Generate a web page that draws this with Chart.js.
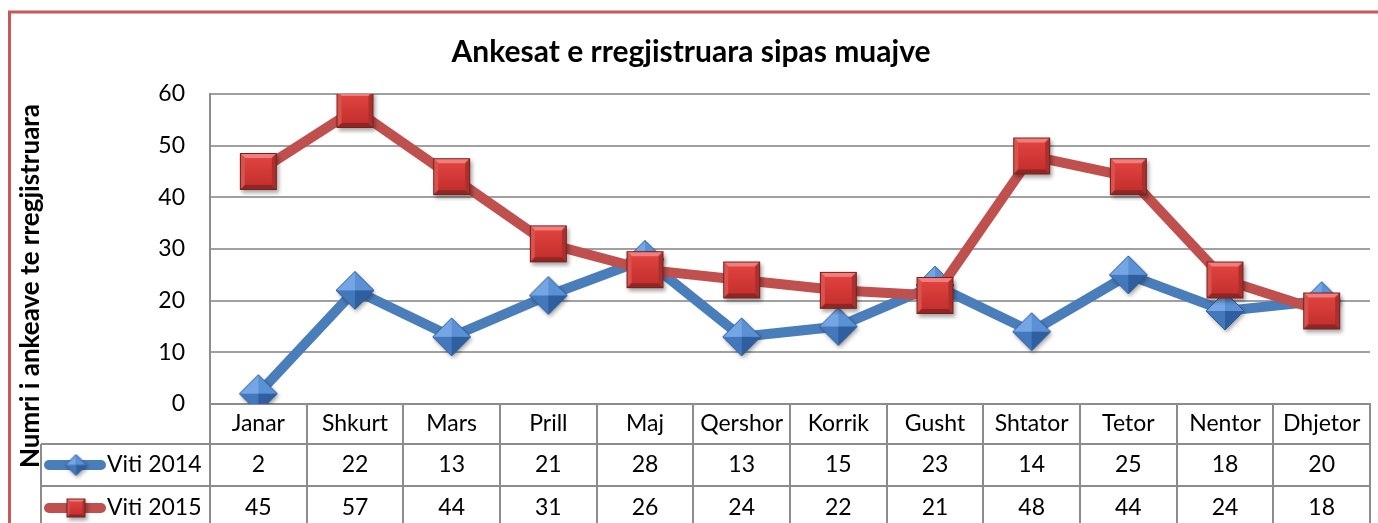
<!DOCTYPE html>
<html>
<head>
<meta charset="utf-8">
<script src="https://cdn.jsdelivr.net/npm/chart.js@4.4.0/dist/chart.umd.min.js"></script>
<style>
  html, body { margin: 0; padding: 0; background: #fff; }
  #wrap { width: 1378px; height: 523px; overflow: hidden; position: relative; }
  canvas { display: block; }
</style>
</head>
<body>
<div id="wrap"><canvas id="chart" width="1384" height="523"></canvas></div>
<script>
// data
var months = ['Janar', 'Shkurt', 'Mars', 'Prill', 'Maj', 'Qershor', 'Korrik', 'Gusht', 'Shtator', 'Tetor', 'Nentor', 'Dhjetor'];
var seriesNames = ['Viti 2014', 'Viti 2015'];
var viti2014 = [2, 22, 13, 21, 28, 13, 15, 23, 14, 25, 18, 20];
var viti2015 = [45, 57, 44, 31, 26, 24, 22, 21, 48, 44, 24, 18];
var yTicks = [0, 10, 20, 30, 40, 50, 60];
var yTitle = 'Numri i ankeave te rregjistruara';

var FONT = 'Lato, "Open Sans", sans-serif';
var BLUE = '#4a7ebb', RED = '#c0504d';
var GRID = '#a0a0a0', TABLE = '#8c8c8c';
var LABEL_SIZE = 23;

// beveled square marker, like the office style
function squareMarker(s) {
  var pad = 6, c = document.createElement('canvas');
  c.width = c.height = s + pad * 2;
  var g = c.getContext('2d');
  var x = pad, y = pad, b = Math.max(2, Math.round(s * 0.14));
  g.shadowColor = 'rgba(0,0,0,0.35)'; g.shadowBlur = 4; g.shadowOffsetX = 1.5; g.shadowOffsetY = 2.5;
  g.fillStyle = '#b8403d'; g.fillRect(x, y, s, s);
  g.shadowColor = 'transparent';
  function poly(pts, col) { g.beginPath(); g.moveTo(pts[0], pts[1]); for (var i = 2; i < pts.length; i += 2) g.lineTo(pts[i], pts[i + 1]); g.closePath(); g.fillStyle = col; g.fill(); }
  poly([x, y, x + s, y, x + s - b, y + b, x + b, y + b], '#f07e7a');
  poly([x, y, x + b, y + b, x + b, y + s - b, x, y + s], '#d8524e');
  poly([x + s, y, x + s, y + s, x + s - b, y + s - b, x + s - b, y + b], '#aa302d');
  poly([x, y + s, x + b, y + s - b, x + s - b, y + s - b, x + s, y + s], '#8e2724');
  var gr = g.createLinearGradient(0, y + b, 0, y + s - b);
  gr.addColorStop(0, '#e0433f'); gr.addColorStop(1, '#c5302e');
  g.fillStyle = gr; g.fillRect(x + b, y + b, s - 2 * b, s - 2 * b);
  g.strokeStyle = '#7a1f1d'; g.lineWidth = 1; g.strokeRect(x + 0.5, y + 0.5, s - 1, s - 1);
  return c;
}

// pyramid-like diamond marker
function diamondMarker(s) {
  var pad = 6, c = document.createElement('canvas');
  c.width = c.height = s + pad * 2;
  var g = c.getContext('2d');
  var cx = c.width / 2, cy = c.height / 2, r = s / 2;
  g.shadowColor = 'rgba(0,0,0,0.35)'; g.shadowBlur = 4; g.shadowOffsetX = 1.5; g.shadowOffsetY = 2.5;
  g.beginPath(); g.moveTo(cx, cy - r); g.lineTo(cx + r, cy); g.lineTo(cx, cy + r); g.lineTo(cx - r, cy); g.closePath();
  g.fillStyle = '#3f75b8'; g.fill();
  g.shadowColor = 'transparent';
  function tri(ax, ay, bx, by, col) { g.beginPath(); g.moveTo(ax, ay); g.lineTo(bx, by); g.lineTo(cx, cy); g.closePath(); g.fillStyle = col; g.fill(); }
  tri(cx - r, cy, cx, cy - r, '#74a6e6');
  tri(cx, cy - r, cx + r, cy, '#5a90d4');
  tri(cx + r, cy, cx, cy + r, '#2f5f9e');
  tri(cx, cy + r, cx - r, cy, '#4478bd');
  g.strokeStyle = '#2d5b94'; g.lineWidth = 1;
  g.beginPath(); g.moveTo(cx, cy - r); g.lineTo(cx + r, cy); g.lineTo(cx, cy + r); g.lineTo(cx - r, cy); g.closePath(); g.stroke();
  return c;
}

var bigDiamond = diamondMarker(38), bigSquare = squareMarker(37);
var smallDiamond = diamondMarker(21), smallSquare = squareMarker(19);

// frame + data table drawn around the chart scales
var tablePlugin = {
  id: 'tablePlugin',
  afterDraw: function (chart) {
    var ctx = chart.ctx, xs = chart.scales.x, area = chart.chartArea;
    var step = xs.getPixelForValue(1) - xs.getPixelForValue(0);
    var top = area.bottom, row1 = top + 40, row2 = row1 + 42, bottom = chart.height;
    var right = xs.getPixelForValue(months.length - 1) + step / 2;
    var tableLeft = 41;
    ctx.save();
    ctx.strokeStyle = TABLE; ctx.lineWidth = 2;
    ctx.beginPath();
    for (var i = 0; i <= months.length; i++) {
      var lx = Math.round(xs.getPixelForValue(i) - step / 2);
      ctx.moveTo(lx, top); ctx.lineTo(lx, bottom);
    }
    ctx.moveTo(tableLeft, row1); ctx.lineTo(right, row1);
    ctx.moveTo(tableLeft, row2); ctx.lineTo(right, row2);
    ctx.moveTo(tableLeft, row1); ctx.lineTo(tableLeft, bottom);
    ctx.stroke();

    var rows = [viti2014, viti2015];
    var centers = [(row1 + row2) / 2, row2 + 22];
    var colors = [BLUE, RED];
    var keys = [smallDiamond, smallSquare];
    ctx.font = LABEL_SIZE + 'px ' + FONT; ctx.fillStyle = '#000'; ctx.textBaseline = 'middle';
    for (var r = 0; r < rows.length; r++) {
      var cy = centers[r];
      ctx.textAlign = 'center';
      for (var k = 0; k < rows[r].length; k++) ctx.fillText(String(rows[r][k]), xs.getPixelForValue(k), cy);
      // legend key
      ctx.strokeStyle = colors[r]; ctx.lineWidth = 10; ctx.lineCap = 'round';
      ctx.beginPath(); ctx.moveTo(49, cy); ctx.lineTo(101, cy); ctx.stroke();
      ctx.drawImage(keys[r], 76 - keys[r].width / 2, cy - keys[r].height / 2);
      ctx.fillStyle = '#000'; ctx.textAlign = 'left';
      ctx.fillText(seriesNames[r], 107, cy);
    }

    // y axis title, centred over plot + table like the original
    ctx.save();
    ctx.translate(31, 286);
    ctx.rotate(-Math.PI / 2);
    ctx.font = 'bold 26px ' + FONT; ctx.textAlign = 'center'; ctx.textBaseline = 'middle';
    ctx.fillText(yTitle, 0, 0);
    ctx.restore();

    // outer frame (only left and top visible)
    ctx.strokeStyle = '#c9585a'; ctx.lineWidth = 3; ctx.lineCap = 'butt';
    ctx.beginPath(); ctx.moveTo(9.5, chart.height + 5); ctx.lineTo(9.5, 12); ctx.lineTo(chart.width + 5, 12); ctx.stroke();
    ctx.restore();
  }
};

var ctx = document.getElementById('chart').getContext('2d');
var chart = new Chart(ctx, {
  type: 'line',
  data: {
    labels: months,
    datasets: [{
      label: seriesNames[0],
      data: viti2014,
      borderColor: BLUE,
      backgroundColor: BLUE,
      borderWidth: 10,
      pointStyle: bigDiamond,
      order: 1,
      tension: 0
    }, {
      label: seriesNames[1],
      data: viti2015,
      borderColor: RED,
      backgroundColor: RED,
      borderWidth: 10,
      pointStyle: bigSquare,
      order: 0,
      tension: 0
    }]
  },
  plugins: [tablePlugin],
  options: {
    responsive: false,
    animation: false,
    devicePixelRatio: 1,
    layout: { padding: { left: 0, right: 2, top: 22, bottom: 0 } },
    plugins: {
      legend: { display: false },
      tooltip: { enabled: false },
      title: {
        display: true,
        text: 'Ankesat e rregjistruara sipas muajve',
        color: '#000',
        font: { family: FONT, size: 30, weight: 'bold' },
        padding: { top: 12, bottom: 24 }
      }
    },
    scales: {
      x: {
        offset: true,
        grid: { display: true, drawOnChartArea: false, drawTicks: false, offset: true },
        border: { display: true, color: TABLE, width: 2 },
        ticks: { color: '#000', font: { family: FONT, size: LABEL_SIZE }, padding: 6, maxRotation: 0, autoSkip: false },
        afterFit: function (s) { s.height = 119; }
      },
      y: {
        min: 0, max: 60,
        afterBuildTicks: function (s) { s.ticks = yTicks.map(function (v) { return { value: v }; }); },
        grid: { color: GRID, lineWidth: 2, drawTicks: false },
        border: { display: true, color: TABLE, width: 2 },
        ticks: { color: '#000', font: { family: FONT, size: LABEL_SIZE }, padding: 25 },
        title: { display: false },
        afterFit: function (s) { s.width = 210; }
      }
    }
  }
});
</script>
</body>
</html>
